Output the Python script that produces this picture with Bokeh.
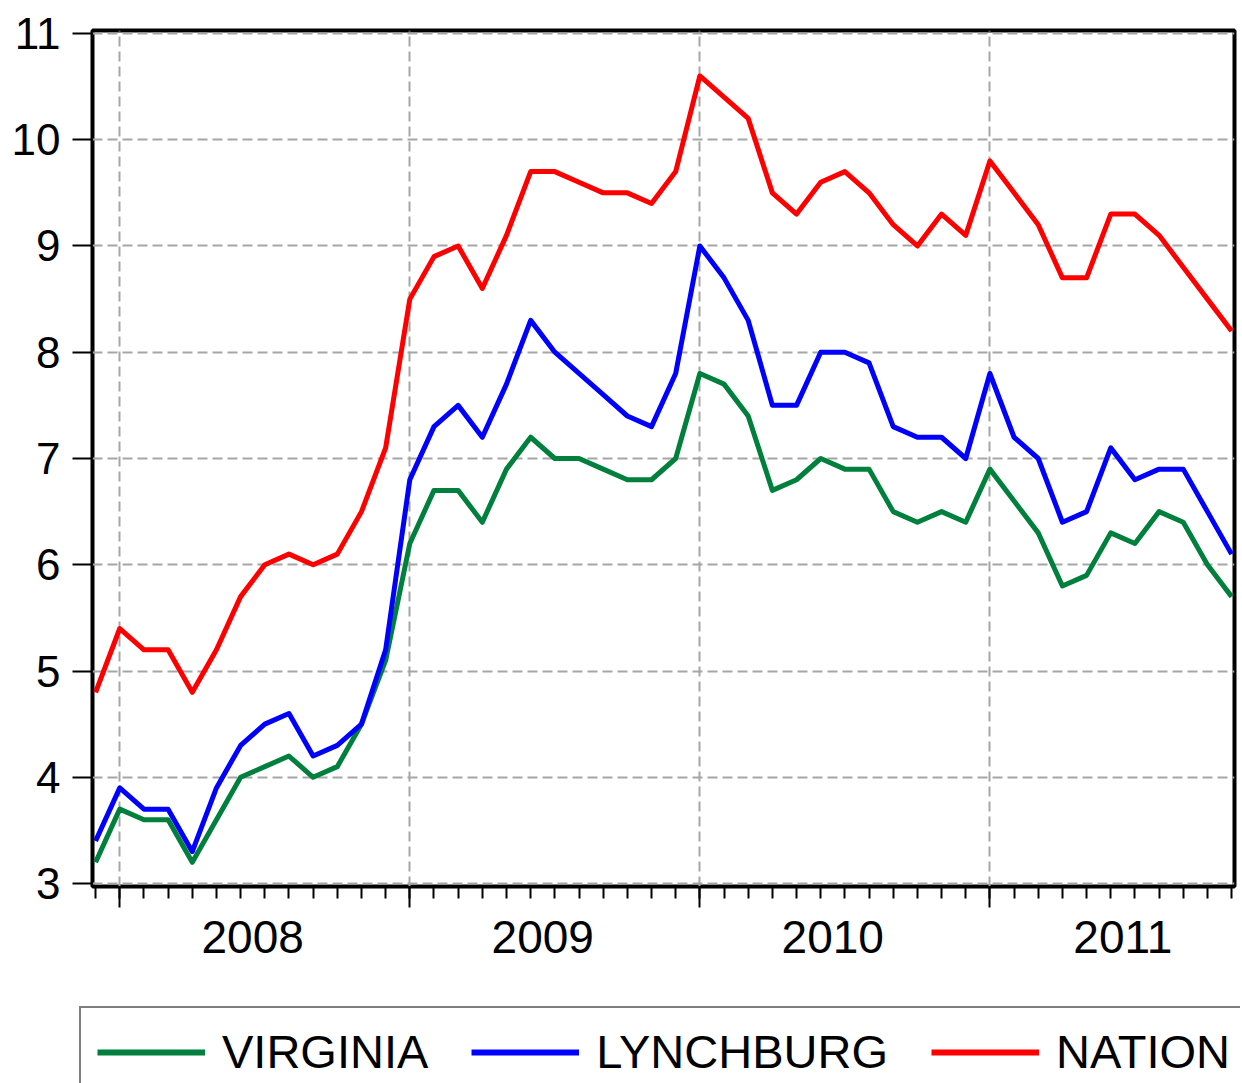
from bokeh.plotting import figure
from bokeh.models import Range1d, FixedTicker, LinearAxis, Legend, LegendItem
from bokeh.embed import file_html
from bokeh.resources import INLINE

# Monthly index: 0 = Dec 2007 ... 47 = Nov 2011
months = list(range(48))
year_ticks = [1, 13, 25, 37]              # January of each year
year_label_pos = [6.5, 18.5, 30.5, 42.5]  # middle of each year
year_labels = ["2008", "2009", "2010", "2011"]
y_ticks = [3, 4, 5, 6, 7, 8, 9, 10, 11]
series_names = ["VIRGINIA", "LYNCHBURG", "NATION"]

virginia = [3.2, 3.7, 3.6, 3.6, 3.2, 3.6, 4.0, 4.1, 4.2, 4.0, 4.1, 4.5, 5.1,
            6.2, 6.7, 6.7, 6.4, 6.9, 7.2, 7.0, 7.0, 6.9, 6.8, 6.8, 7.0,
            7.8, 7.7, 7.4, 6.7, 6.8, 7.0, 6.9, 6.9, 6.5, 6.4, 6.5, 6.4,
            6.9, 6.6, 6.3, 5.8, 5.9, 6.3, 6.2, 6.5, 6.4, 6.0, 5.7]
lynchburg = [3.4, 3.9, 3.7, 3.7, 3.3, 3.9, 4.3, 4.5, 4.6, 4.2, 4.3, 4.5, 5.2,
             6.8, 7.3, 7.5, 7.2, 7.7, 8.3, 8.0, 7.8, 7.6, 7.4, 7.3, 7.8,
             9.0, 8.7, 8.3, 7.5, 7.5, 8.0, 8.0, 7.9, 7.3, 7.2, 7.2, 7.0,
             7.8, 7.2, 7.0, 6.4, 6.5, 7.1, 6.8, 6.9, 6.9, 6.5, 6.1]
nation = [4.8, 5.4, 5.2, 5.2, 4.8, 5.2, 5.7, 6.0, 6.1, 6.0, 6.1, 6.5, 7.1,
          8.5, 8.9, 9.0, 8.6, 9.1, 9.7, 9.7, 9.6, 9.5, 9.5, 9.4, 9.7,
          10.6, 10.4, 10.2, 9.5, 9.3, 9.6, 9.7, 9.5, 9.2, 9.0, 9.3, 9.1,
          9.8, 9.5, 9.2, 8.7, 8.7, 9.3, 9.3, 9.1, 8.8, 8.5, 8.2]

FONT = "Liberation Sans"
COLORS = ["#00803c", "#0000ff", "#ff0000"]
GRID = "#a6a6a6"
LW = 5

W, H1, H2 = 1240, 1000, 83
p = figure(width=W, height=H1,
           x_range=Range1d(-0.128, 47.12), y_range=Range1d(2.972, 11.028),
           output_backend="svg", toolbar_location=None,
           min_border_left=92, min_border_right=W - 92 - 1142,
           min_border_top=30, min_border_bottom=H1 - 30 - 856)
p.background_fill_color = "white"
p.border_fill_color = "white"
p.outline_line_color = "black"
p.outline_line_width = 4

# Y axis
ya = p.yaxis[0]
ya.ticker = FixedTicker(ticks=y_ticks)
ya.axis_line_color = None
ya.major_tick_out = 20
ya.major_tick_in = 0
ya.major_tick_line_width = 2
ya.major_tick_line_color = "black"
ya.minor_tick_line_color = None
ya.major_label_text_font = FONT
ya.major_label_text_font_size = "44px"
ya.major_label_text_color = "black"
ya.major_label_standoff = 12

# X axis carrying the month / year tick marks only
xa = p.xaxis[0]
xa.ticker = FixedTicker(ticks=year_ticks, minor_ticks=months)
xa.axis_line_color = None
xa.major_tick_out = 21
xa.major_tick_in = 0
xa.minor_tick_out = 12
xa.minor_tick_in = 0
xa.major_tick_line_width = 2
xa.minor_tick_line_width = 2
xa.major_tick_line_color = "black"
xa.minor_tick_line_color = "black"
xa.major_label_overrides = {t: "" for t in year_ticks}
xa.major_label_text_font_size = "1px"
xa.major_label_standoff = 0

# X axis with the year labels centred in each year
xl = LinearAxis(ticker=FixedTicker(ticks=year_label_pos),
                major_label_overrides=dict(zip(year_label_pos, year_labels)))
xl.axis_line_color = None
xl.major_tick_line_color = None
xl.minor_tick_line_color = None
xl.major_tick_out = 0
xl.major_tick_in = 0
xl.major_label_text_font = FONT
xl.major_label_text_font_size = "46px"
xl.major_label_text_color = "black"
xl.major_label_standoff = 13
p.add_layout(xl, "below")

for g in (p.xgrid[0], p.ygrid[0]):
    g.grid_line_color = GRID
    g.grid_line_width = 2
    g.grid_line_dash = "10 5"

for ys, c in zip([virginia, lynchburg, nation], COLORS):
    p.line(months, ys, line_color=c, line_width=LW, line_join="round")

# Legend strip under the chart; its box runs off the right and bottom edges
lf = figure(width=W, height=H2, output_backend="svg", toolbar_location=None,
            x_axis_location=None, y_axis_location=None, min_border=0,
            x_range=Range1d(0, 1), y_range=Range1d(0, 1))
lf.outline_line_color = None
lf.grid.visible = False
lf.background_fill_color = "white"
lf.border_fill_color = "white"
nan = float("nan")
items = []
for name, c in zip(series_names, COLORS):
    r = lf.line([nan], [nan], line_color=c, line_width=6)
    items.append(LegendItem(label=name, renderers=[r]))
legend = Legend(items=items, orientation="horizontal", location=(79, -14),
                glyph_width=108, glyph_height=40,
                label_standoff=17, spacing=43, padding=16, margin=0,
                border_line_color="black", border_line_width=2,
                background_fill_color="white", background_fill_alpha=1,
                label_text_font=FONT, label_text_font_size="47px",
                label_text_color="black")
lf.add_layout(legend, "center")

open("out.html", "w").write(file_html([p, lf], INLINE))
